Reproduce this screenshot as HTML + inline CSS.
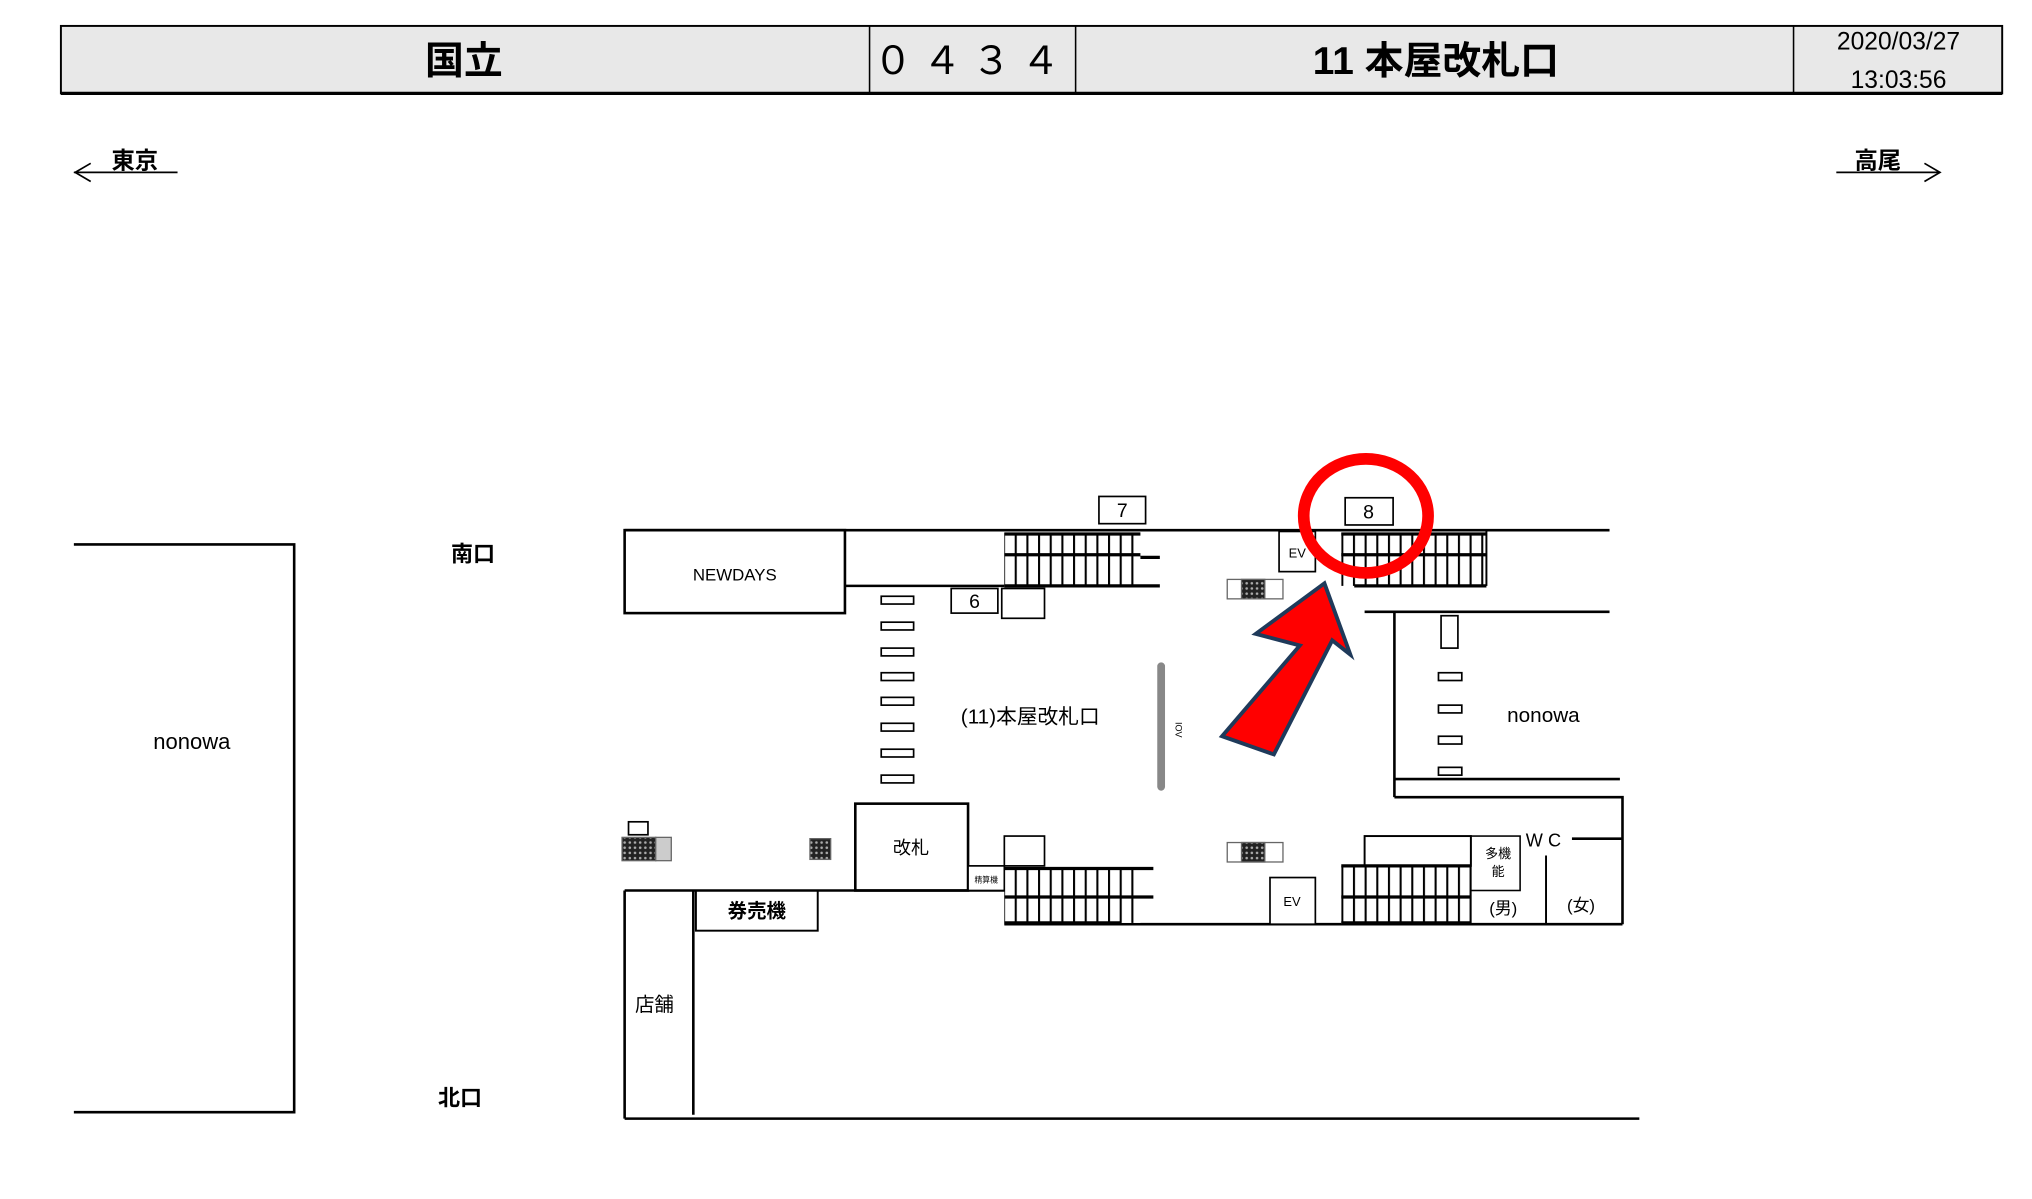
<!DOCTYPE html>
<html><head><meta charset="utf-8"><style>
html,body{margin:0;padding:0;background:#fff;}
svg{display:block;}
text{font-family:"Liberation Sans","Noto Sans CJK JP",sans-serif;fill:#000;}
</style></head><body>
<svg width="2032" height="1199" viewBox="0 0 1568 925" preserveAspectRatio="none" xmlns="http://www.w3.org/2000/svg">
<defs>
<pattern id="st" width="9" height="10" patternUnits="userSpaceOnUse"><rect width="9" height="10" fill="#fff"/><rect x="0" y="0" width="1.6" height="10" fill="#000"/></pattern>
<pattern id="dk" width="4" height="4" patternUnits="userSpaceOnUse"><rect width="4" height="4" fill="#222"/><circle cx="2" cy="2" r="1" fill="#aaa"/></pattern>
</defs>
<rect width="1568" height="925" fill="#fff"/>
<!-- header -->
<rect x="47" y="20" width="1498" height="52" fill="#e8e8e8" stroke="#000" stroke-width="1.5"/>
<line x1="47" y1="72" x2="1545" y2="72" stroke="#000" stroke-width="2.5"/>
<line x1="671" y1="20" x2="671" y2="72" stroke="#000" stroke-width="1.2"/>
<line x1="830" y1="20" x2="830" y2="72" stroke="#000" stroke-width="1.2"/>
<line x1="1384" y1="20" x2="1384" y2="72" stroke="#000" stroke-width="1.2"/>
<text x="358" y="57" font-size="30" text-anchor="middle" font-weight="600">国立</text>
<text x="750" y="57" font-size="30" text-anchor="middle" letter-spacing="8">０４３４</text>
<text x="1108" y="57" font-size="30" text-anchor="middle" font-weight="600">11 本屋改札口</text>
<text x="1465" y="38" font-size="19" text-anchor="middle">2020/03/27</text>
<text x="1465" y="68" font-size="19" text-anchor="middle">13:03:56</text>
<!-- direction -->
<text x="104" y="130" font-size="18" text-anchor="middle" font-weight="600">東京</text>
<polyline points="57,133 137,133" stroke="#000" fill="none" stroke-width="1.3"/>
<polyline points="70,126 58,133 70,140" stroke="#000" fill="none" stroke-width="1.3"/>
<text x="1449" y="130" font-size="18" text-anchor="middle" font-weight="600">高尾</text>
<polyline points="1417,133 1497,133" stroke="#000" fill="none" stroke-width="1.3"/>
<polyline points="1485,126 1497,133 1485,140" stroke="#000" fill="none" stroke-width="1.3"/>
<!-- left nonowa -->
<polyline points="57,420 227,420 227,858 57,858" stroke="#000" fill="none" stroke-width="2"/>
<text x="148" y="578" font-size="17" text-anchor="middle">nonowa</text>
<text x="365" y="433" font-size="17" text-anchor="middle" font-weight="600">南口</text>
<text x="355" y="853" font-size="17" text-anchor="middle" font-weight="600">北口</text>
<g stroke="#000" fill="none" stroke-width="2">
<line x1="482" y1="409" x2="1242" y2="409"/>
<rect x="482" y="409" width="170" height="64"/>
<line x1="652" y1="452" x2="775" y2="452"/>
<line x1="1053" y1="472" x2="1242" y2="472"/>
<line x1="1076" y1="472" x2="1076" y2="615"/>
<line x1="1076" y1="601" x2="1250" y2="601"/>
<polyline points="1076,615 1252,615 1252,713"/>
<line x1="775" y1="713" x2="1252" y2="713"/>
<line x1="482" y1="687" x2="775" y2="687"/>
<line x1="482" y1="687" x2="482" y2="863"/>
<line x1="535" y1="687" x2="535" y2="860"/>
<line x1="482" y1="863" x2="1265" y2="863"/>
<rect x="660" y="620" width="87" height="67"/>
<rect x="537" y="687" width="94" height="31" stroke-width="1.5"/>
<line x1="1193" y1="660" x2="1193" y2="713" stroke-width="1.5"/>
<line x1="1213" y1="647" x2="1252" y2="647"/>
<rect x="1053" y="645" width="82" height="23" stroke-width="1.5"/>
<rect x="1135" y="645" width="38" height="42" stroke-width="1.2"/>
<line x1="1135" y1="687" x2="1135" y2="713" stroke-width="1.2"/>
</g>
<text x="567" y="448" font-size="13" text-anchor="middle">NEWDAYS</text>
<text x="703" y="659" font-size="14" text-anchor="middle">改札</text>
<text x="584" y="708" font-size="15" text-anchor="middle" font-weight="600">券売機</text>
<text x="505" y="780" font-size="15" text-anchor="middle">店舗</text>
<text x="795" y="558" font-size="16" text-anchor="middle">(11)本屋改札口</text>
<text x="1191" y="557" font-size="16" text-anchor="middle">nonowa</text>
<text x="1191" y="653" font-size="14" text-anchor="middle">W C</text>
<text x="1156" y="662" font-size="10" text-anchor="middle">多機</text>
<text x="1156" y="676" font-size="10" text-anchor="middle">能</text>
<text x="1160" y="705" font-size="13" text-anchor="middle">(男)</text>
<text x="1220" y="703" font-size="13" text-anchor="middle">(女)</text>
<!-- boxes -->
<g stroke="#000" fill="#fff" stroke-width="1.3">
<rect x="848" y="383" width="36" height="21"/>
<rect x="1038" y="384" width="37" height="21"/>
<rect x="734" y="454" width="36" height="19"/>
<rect x="773" y="454" width="33" height="23"/>
<rect x="987" y="410" width="28" height="31"/>
<rect x="775" y="645" width="31" height="23"/>
<rect x="980" y="677" width="35" height="36"/>
<rect x="1112" y="475" width="13" height="25"/>
<rect x="747" y="668" width="28" height="19"/>
</g>
<text x="866" y="399" font-size="15" text-anchor="middle">7</text>
<text x="1056" y="400" font-size="15" text-anchor="middle">8</text>
<text x="752" y="469" font-size="15" text-anchor="middle">6</text>
<text x="1001" y="430" font-size="10" text-anchor="middle">EV</text>
<text x="997" y="699" font-size="10" text-anchor="middle">EV</text>
<text x="761" y="681" font-size="6" text-anchor="middle">精算機</text>
<!-- escalators -->
<g stroke="#000" stroke-width="2.5">
<rect x="775" y="411" width="105" height="41" fill="url(#st)" stroke="none"/>
<line x1="775" y1="412" x2="880" y2="412"/><line x1="775" y1="428" x2="880" y2="428"/><line x1="775" y1="452" x2="895" y2="452"/><line x1="880" y1="430" x2="895" y2="430"/>
<rect x="1035" y="411" width="112" height="41" fill="url(#st)" stroke="none"/>
<line x1="1035" y1="412" x2="1147" y2="412"/><line x1="1035" y1="428" x2="1147" y2="428"/><line x1="1045" y1="452" x2="1147" y2="452"/><line x1="1147" y1="410" x2="1147" y2="452" stroke-width="1.5"/>
<rect x="775" y="670" width="105" height="42" fill="url(#st)" stroke="none"/>
<line x1="775" y1="670" x2="890" y2="670"/><line x1="775" y1="692" x2="890" y2="692"/><line x1="775" y1="712" x2="865" y2="712"/>
<rect x="1035" y="668" width="100" height="45" fill="url(#st)" stroke="none"/>
<line x1="1035" y1="668" x2="1135" y2="668"/><line x1="1035" y1="692" x2="1135" y2="692"/><line x1="1035" y1="712" x2="1135" y2="712"/>
</g>
<!-- gates -->
<g stroke="#000" fill="#fff" stroke-width="1.3">
<rect x="680" y="460" width="25" height="6"/><rect x="680" y="480" width="25" height="6"/><rect x="680" y="500" width="25" height="6"/><rect x="680" y="519" width="25" height="6"/><rect x="680" y="538" width="25" height="6"/><rect x="680" y="558" width="25" height="6"/><rect x="680" y="578" width="25" height="6"/><rect x="680" y="598" width="25" height="6"/>
<rect x="1110" y="519" width="18" height="6"/><rect x="1110" y="544" width="18" height="6"/><rect x="1110" y="568" width="18" height="6"/><rect x="1110" y="592" width="18" height="6"/>
<rect x="485" y="634" width="15" height="10"/>
</g>
<rect x="893" y="511" width="6" height="99" rx="3" fill="#888"/>
<text x="907" y="563" font-size="7" transform="rotate(90 907 563)" text-anchor="middle">IOV</text>
<!-- machines -->
<g stroke="#666" stroke-width="1">
<rect x="947" y="447" width="43" height="15" fill="#fff"/><rect x="958" y="447" width="18" height="15" fill="url(#dk)"/>
<rect x="947" y="650" width="43" height="15" fill="#fff"/><rect x="958" y="650" width="18" height="15" fill="url(#dk)"/>
<rect x="480" y="646" width="26" height="18" fill="url(#dk)"/><rect x="506" y="646" width="12" height="18" fill="#ccc"/>
<rect x="625" y="647" width="16" height="16" fill="url(#dk)"/>
</g>
<!-- red highlight -->
<ellipse cx="1054" cy="398" rx="48" ry="44" fill="none" stroke="#f00" stroke-width="9"/>
<polygon points="1022,450 1042,505 1028,494 983,582 943,568 1003,498 969,489" fill="#f00" stroke="#1f3a5a" stroke-width="3" stroke-linejoin="miter"/>
</svg>
</body></html>
